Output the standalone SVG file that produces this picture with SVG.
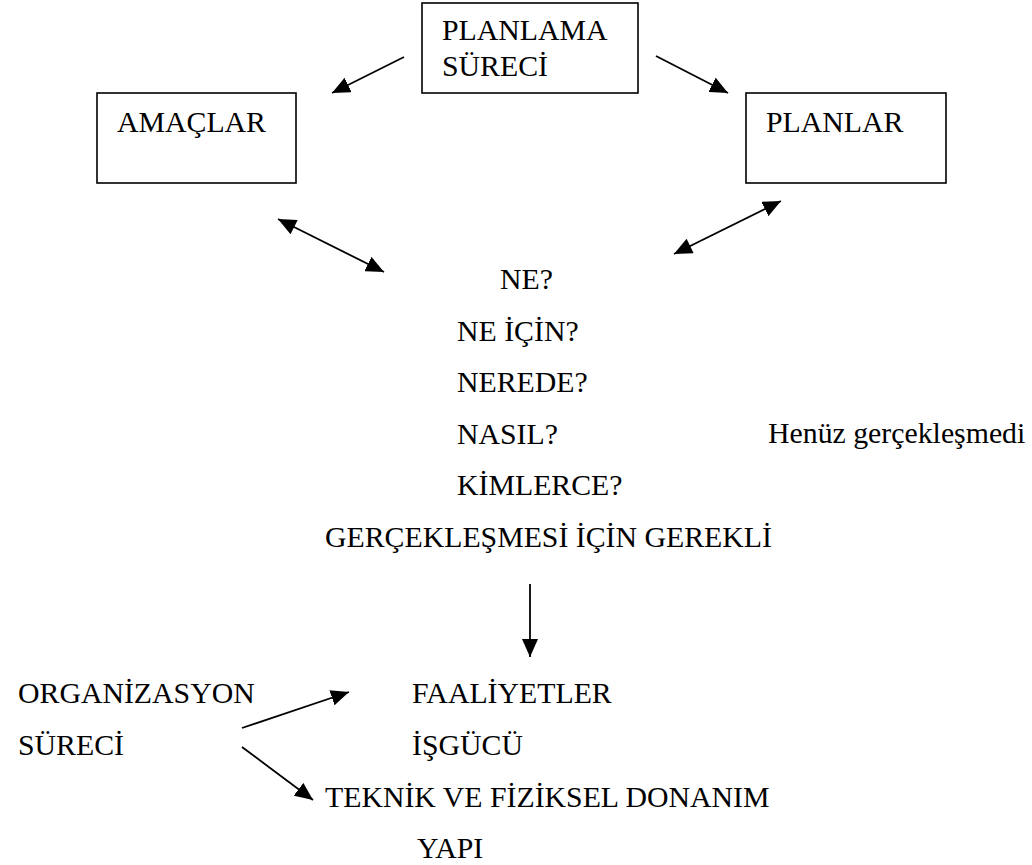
<svg xmlns="http://www.w3.org/2000/svg" width="1032" height="865" viewBox="0 0 1032 865">
<style>
.t{font-family:'Liberation Serif','Times New Roman',Tinos,'DejaVu Serif',serif;font-size:29.8px;fill:#000}
.box{fill:#fff;stroke:#000;stroke-width:1.6}
.c{stroke:#000;stroke-width:1.8;fill:none}
</style>
<defs>
<marker id="ah" markerUnits="userSpaceOnUse" markerWidth="20" markerHeight="16" refX="18" refY="8" orient="auto">
<path d="M0,0 L18,8 L0,16 z" fill="#000"/>
</marker>
<marker id="as" markerUnits="userSpaceOnUse" markerWidth="20" markerHeight="16" refX="0" refY="8" orient="auto">
<path d="M18,0 L0,8 L18,16 z" fill="#000"/>
</marker>
</defs>
<rect width="1032" height="865" fill="#fff"/>
<g class="t" font-family="Liberation Serif, serif">
<g id="planlama">
<rect class="box" x="422" y="3" width="216" height="90"/>
<text x="442" y="40">PLANLAMA</text>
<text x="442" y="76">SÜRECİ</text>
</g>
<g id="amaclar">
<rect class="box" x="97" y="93" width="199" height="90"/>
<text x="117" y="132">AMAÇLAR</text>
</g>
<g id="planlar">
<rect class="box" x="746" y="93" width="200" height="90"/>
<text x="766" y="132">PLANLAR</text>
</g>
<g id="sorular">
<text x="500" y="289">NE?</text>
<text x="457" y="341">NE İÇİN?</text>
<text x="457" y="392">NEREDE?</text>
<text x="457" y="444">NASIL?</text>
<text x="457" y="495">KİMLERCE?</text>
<text x="325" y="547">GERÇEKLEŞMESİ İÇİN GEREKLİ</text>
</g>
<g id="henuz">
<text x="768" y="443">Henüz gerçekleşmedi</text>
</g>
<g id="organizasyon">
<text x="18" y="703">ORGANİZASYON</text>
<text x="18" y="755">SÜRECİ</text>
</g>
<g id="unsurlar">
<text x="412" y="703">FAALİYETLER</text>
<text x="412" y="755">İŞGÜCÜ</text>
<text x="325" y="807">TEKNİK VE FİZİKSEL DONANIM</text>
<text x="417" y="858">YAPI</text>
</g>
</g>
<g id="connectors">
<line class="c" x1="404" y1="57" x2="332" y2="93" marker-end="url(#ah)"/>
<line class="c" x1="656" y1="56" x2="728" y2="93" marker-end="url(#ah)"/>
<line class="c" x1="278" y1="219" x2="384" y2="272" marker-start="url(#as)" marker-end="url(#ah)"/>
<line class="c" x1="674" y1="254" x2="781" y2="201" marker-start="url(#as)" marker-end="url(#ah)"/>
<line class="c" x1="530" y1="584" x2="530" y2="657" marker-end="url(#ah)"/>
<line class="c" x1="242" y1="728" x2="349" y2="692" marker-end="url(#ah)"/>
<line class="c" x1="242" y1="747" x2="313" y2="800" marker-end="url(#ah)"/>
</g>
</svg>
